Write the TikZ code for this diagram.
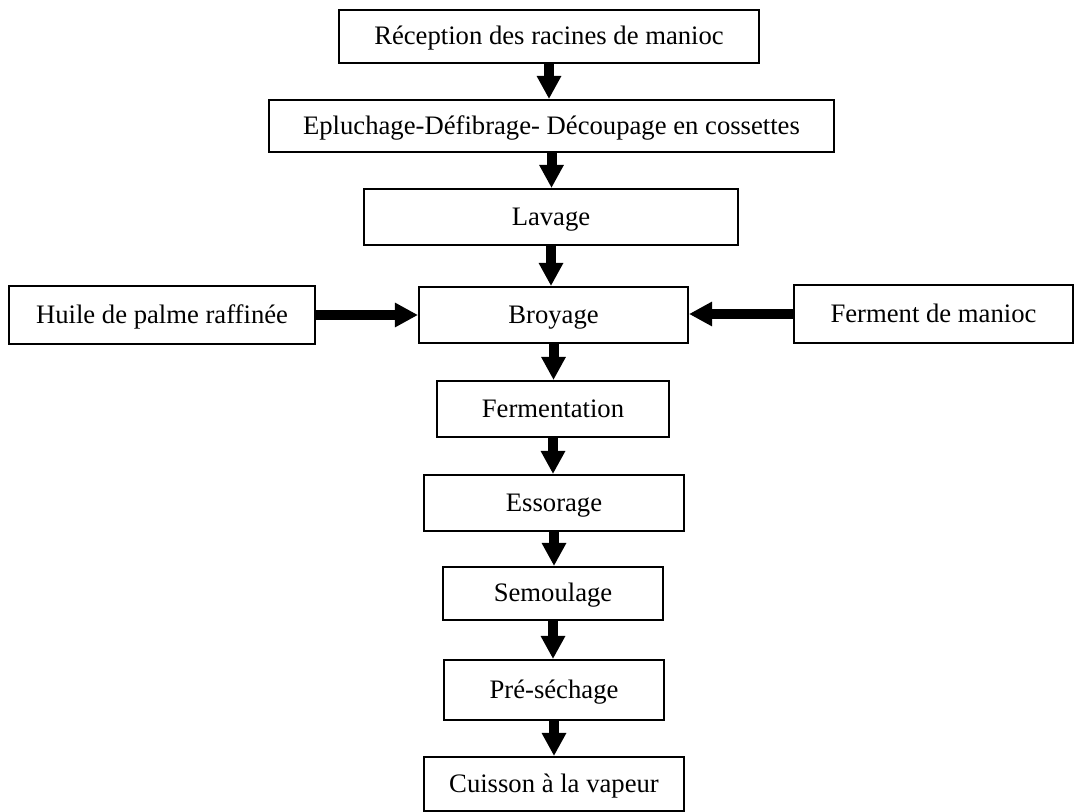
\documentclass[tikz,border=0pt]{standalone}
\usepackage{fontspec}
\setmainfont{Liberation Serif}
\usepackage{tikz}
\usetikzlibrary{arrows.meta,positioning,calc}

\begin{document}
\begin{tikzpicture}[x=0.45pt,y=-0.45pt,
    etape/.style={draw,line width=0.9pt,inner sep=0pt,text height=8pt,text depth=0.4pt,font=\fontsize{12}{14}\selectfont},
    fleche/.style={line width=4.5pt,-{Triangle[width=10.4pt,length=10.4pt]}}]
            \useasboundingbox (0,0) rectangle (1074,812);

            % Main chain
            \node[etape,minimum width=189pt,minimum height=23.85pt] (rec) at (549,36.5) {Réception des racines de manioc};
            \node[etape,minimum width=254.25pt,minimum height=23.4pt] (epl) at (551.5,126) {Epluchage-Défibrage- Découpage en cossettes};
            \node[etape,minimum width=168.3pt,minimum height=25.2pt] (lav) at (551,217) {Lavage};
            \node[etape,minimum width=121.05pt,minimum height=25.2pt] (broy) at (553.5,315) {Broyage};
            \node[etape,minimum width=104.4pt,minimum height=25.2pt] (ferm) at (553,409) {Fermentation};
            \node[etape,minimum width=117pt,minimum height=25.2pt] (ess) at (554,503) {Essorage};
            \node[etape,minimum width=99pt,minimum height=23.85pt] (sem) at (553,593.5) {Semoulage};
            \node[etape,minimum width=99pt,minimum height=27pt] (pre) at (554,690) {Pré-séchage};
            \node[etape,minimum width=117pt,minimum height=24.3pt] (cuis) at (554,784) {Cuisson à la vapeur};

            % Inputs
            \node[etape,minimum width=137.7pt,minimum height=26.1pt] (huile) at (162,315) {Huile de palme raffinée};
            \node[etape,minimum width=125.55pt,minimum height=26.1pt] (ferment) at (933.5,314) {Ferment de manioc};

            % Arrows
            \foreach \a/\b in {rec/epl,epl/lav,lav/broy,broy/ferm,ferm/ess,ess/sem,sem/pre,pre/cuis} {
                \draw[fleche] (\a.south) -- (\a.south |- \b.north);
            }
            \draw[fleche] (huile.east) -- (huile.east -| broy.west);
            \draw[fleche] (ferment.west) -- (ferment.west -| broy.east);
        \end{tikzpicture}
\end{document}
